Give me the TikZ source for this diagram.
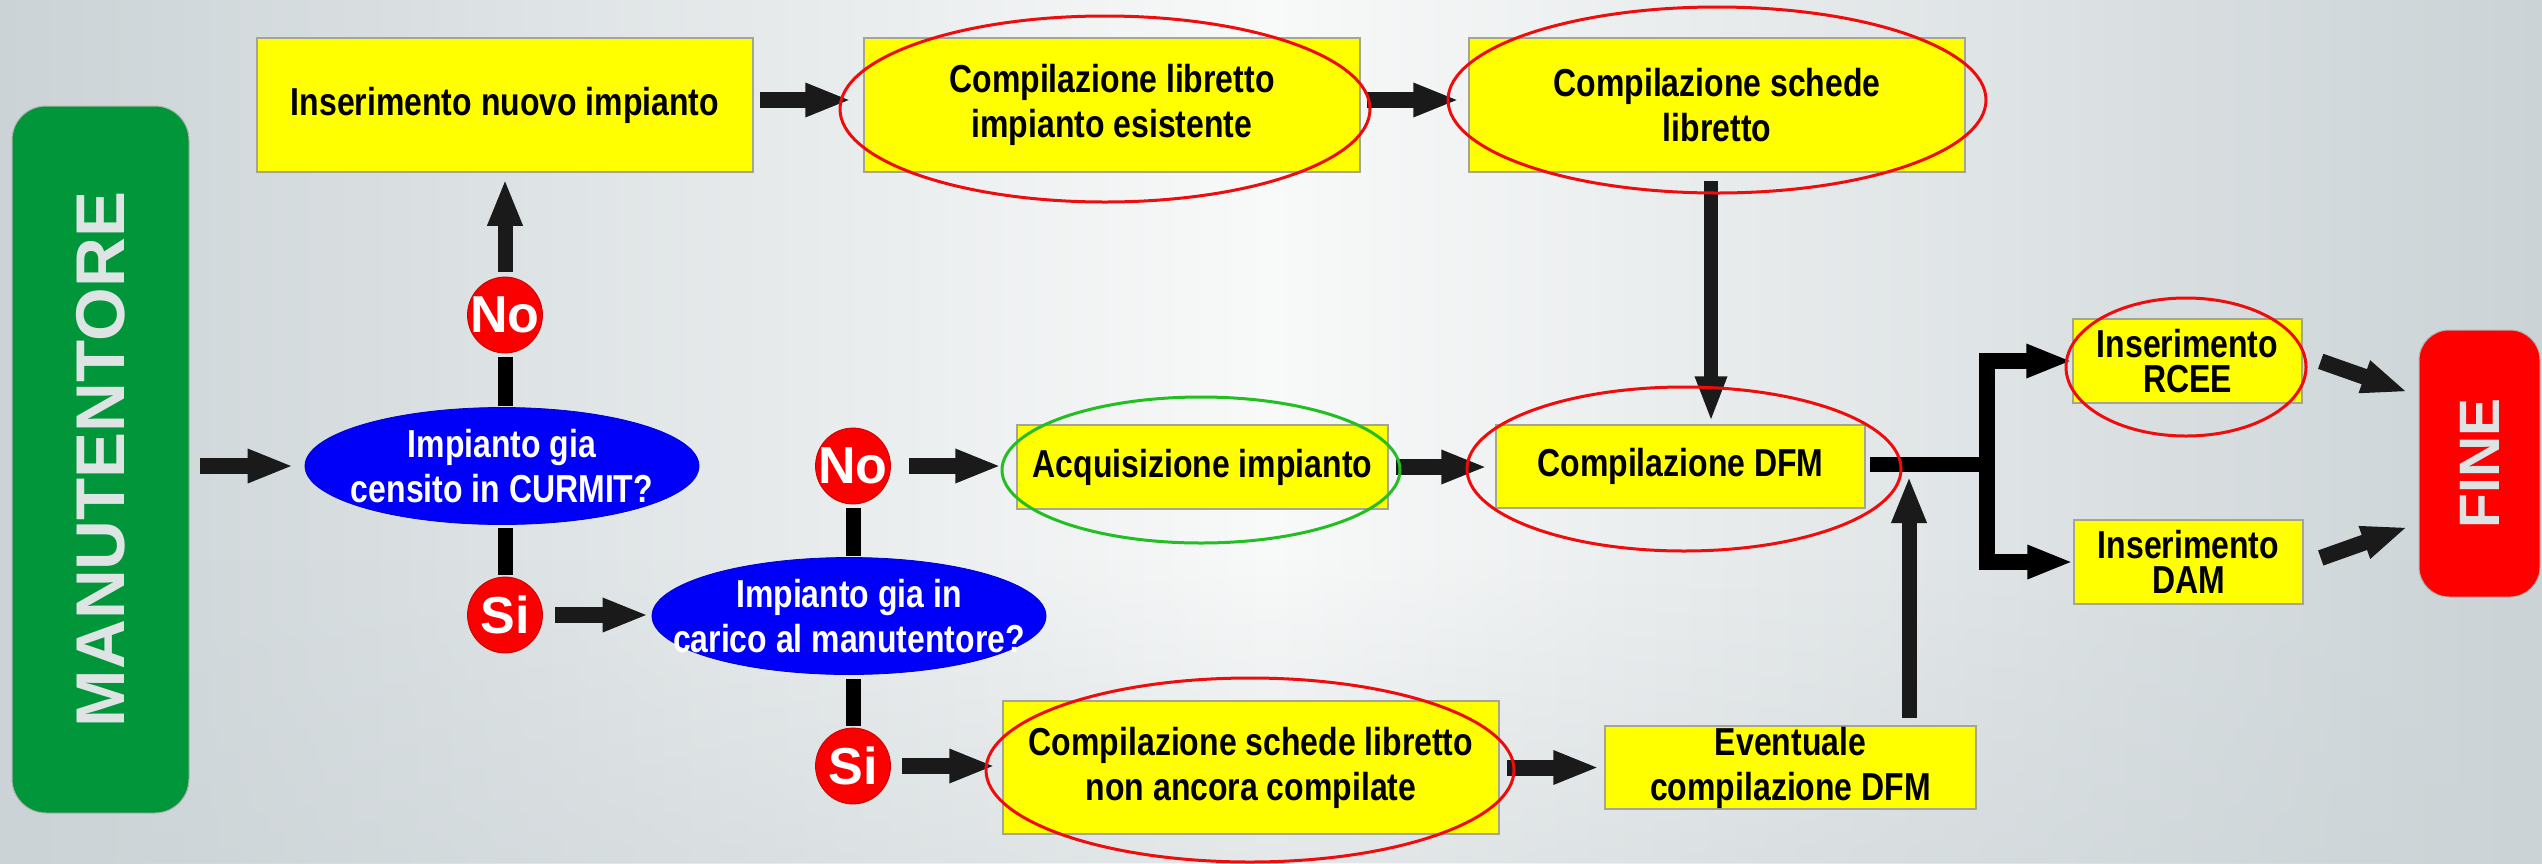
\documentclass[tikz,border=0pt]{standalone}
\usepackage{fontspec}
\setmainfont{Liberation Sans}
\newfontfamily\narrowfam{Liberation Sans}[FakeStretch=0.82]
\usetikzlibrary{shapes.geometric,arrows.meta,fadings}
\definecolor{bgedge}{RGB}{203,211,214}
\definecolor{bgmid}{RGB}{248,249,249}
\definecolor{boxedge}{RGB}{165,165,150}
\definecolor{ylw}{RGB}{255,255,0}
\definecolor{arr}{RGB}{26,26,26}
\definecolor{mangreen}{RGB}{0,150,57}
\definecolor{lighttext}{RGB}{222,228,228}
\definecolor{ringred}{RGB}{238,12,12}
\definecolor{ringgreen}{RGB}{34,190,34}
\definecolor{qblue}{RGB}{0,0,250}
\definecolor{ynred}{RGB}{250,0,0}
\begin{document}
\begin{tikzpicture}[x=1pt,y=-1pt,
  ybox/.style={draw=boxedge,line width=1.5pt,fill=ylw,align=center,inner sep=0pt,
     font=\narrowfam\bfseries\fontsize{39}{45}\selectfont},
  ybox2/.style={ybox,font=\narrowfam\bfseries\fontsize{39}{35}\selectfont,
     minimum width=229pt,minimum height=84pt},
  qell/.style={ellipse,fill=qblue,draw=qblue!80!black,line width=0.8pt,inner sep=0pt,
     minimum width=394pt,minimum height=117pt},
  qtext/.style={align=center,text=white,inner sep=0pt,
     font=\narrowfam\bfseries\fontsize{39}{45}\selectfont},
  yn/.style={ellipse,fill=ynred,draw=ynred!80!black,line width=0.8pt,inner sep=0pt,
     minimum width=75pt,minimum height=76pt,text=white,
     font=\bfseries\fontsize{52}{52}\selectfont},
  ring/.style={ellipse,draw=ringred,line width=3pt,inner sep=0pt},
  gring/.style={ellipse,draw=ringgreen,line width=3pt,inner sep=0pt},
  blk/.style={draw=arr,line width=16pt,-{Triangle[length=46pt,width=31pt]}},
  blkv/.style={draw=arr,line width=15pt,-{Triangle[length=47pt,width=32pt]}},
  vline/.style={draw=black,line width=15pt},
  endbox/.style={inner sep=0pt,draw=gray!60,line width=1pt}
]
\useasboundingbox (0,0) rectangle (2542,863);
\shade[left color=bgedge,right color=bgedge,middle color=bgmid] (0,0) rectangle (2542,863);
\fill[bgedge,path fading=north,fill opacity=0.45] (0,560) rectangle (2542,863);

% start / end
\node[endbox,fill=mangreen,rounded corners=34pt,minimum width=177pt,minimum height=707pt] (man) at (100.5,459.5) {};
\node[rotate=90,text=lighttext,inner sep=0pt,font=\bfseries\fontsize{69}{69}\selectfont] (mant) at (man.center) {MANUTENTORE};
\node[endbox,fill=red,rounded corners=30pt,minimum width=121pt,minimum height=267pt] (fine) at (2479.5,463.5) {};
\node[rotate=90,text=lighttext,inner sep=0pt,font=\bfseries\fontsize{57}{57}\selectfont] (finet) at (fine.center) {FINE};

% yellow boxes
\node[ybox,minimum width=496pt,minimum height=134pt] (nuovo) at (505,105) {Inserimento nuovo impianto};
\node[ybox,minimum width=496pt,minimum height=134pt] (lib) at (1112,105) {Compilazione libretto\\impianto esistente};
\node[ybox,minimum width=496pt,minimum height=134pt] (sch) at (1717,105) {Compilazione schede\\libretto};
\node[ybox,minimum width=371pt,minimum height=84pt] (acq) at (1202.5,467) {Acquisizione impianto};
\node[ybox,minimum width=369pt,minimum height=83pt] (dfm) at (1680.5,466.5) {Compilazione DFM};
\node[ybox,minimum width=496pt,minimum height=133pt] (schnc) at (1251,767.5) {Compilazione schede libretto\\non ancora compilate};
\node[ybox,minimum width=371pt,minimum height=83pt] (ev) at (1790.5,767.5) {Eventuale\\compilazione DFM};
\node[ybox2] (rcee) at (2187.5,361) {Inserimento\\RCEE};
\node[ybox2] (dam) at (2188.5,562) {Inserimento\\DAM};

% questions
\node[qell] (q1) at (502,466) {};
\node[qtext] (q1t) at (q1.center) {Impianto gia\\censito in CURMIT?};
\node[qell] (q2) at (849,616) {};
\node[qtext] (q2t) at (q2.center) {Impianto gia in\\carico al manutentore?};

% answers
\node[yn] (no1) at (505,315) {\makebox[0pt]{No}};
\node[yn] (si1) at (505,615) {\makebox[0pt]{Si}};
\node[yn] (no2) at (853,466) {\makebox[0pt]{No}};
\node[yn] (si2) at (853,766) {\makebox[0pt]{Si}};

% plain connector segments
\draw[vline,shorten <=4pt,shorten >=1pt] (no1.south) -- (q1.north -| no1.south);
\draw[vline,shorten <=3pt,shorten >=2pt] (q1.south -| si1.north) -- (si1.north);
\draw[vline,shorten <=4pt,shorten >=1pt] (no2.south) -- (q2.north -| no2.south);
\draw[vline,shorten <=4pt,shorten >=2pt] (q2.south -| si2.north) -- (si2.north);

% arrows
\draw[blk,shorten <=6pt,shorten >=12pt] ([yshift=5pt]nuovo.east) -- ([yshift=5pt]lib.west);
\draw[blk,shorten <=6pt,shorten >=9pt] ([yshift=5pt]lib.east) -- ([yshift=5pt]sch.west);
\draw[blk,shorten <=10pt,shorten >=11pt] (man.east |- q1.west) -- (q1.west);
\draw[blk,shorten <=12pt,shorten >=3pt] (si1.east) -- (q2.west |- si1.east);
\draw[blk,shorten <=18pt,shorten >=15pt] (no2.east) -- (acq.west |- no2.east);
\draw[blk,shorten <=11pt,shorten >=7pt] (si2.east) -- (schnc.west |- si2.east);
\draw[blk,shorten <=7pt,shorten >=8pt] (acq.east) -- (dfm.west |- acq.east);
\draw[blk,shorten <=7pt,shorten >=5pt] (schnc.east) -- (ev.west |- schnc.east);
\draw[blkv,shorten <=5pt,shorten >=6pt] (no1.north) -- (nuovo.south -| no1.north);

\coordinate (dx) at (1711,0);
\draw[blkv,line width=14pt,-{Triangle[length=46pt,width=29pt]},shorten <=8pt,shorten >=2pt] (sch.south -| dx) -- (dfm.north -| dx);
\coordinate (ux) at (1909,476);
\draw[blkv,shorten <=7pt] (ev.north -| ux) -- (ux);

\coordinate (j) at (1987,464.5);
\draw[vline,shorten <=4pt] (dfm.east |- j) -- (j);
\draw[blk,draw=black] (j) |- (rcee.west);
\draw[blk,draw=black] (j) |- (dam.west);

\coordinate (f1) at (2419,396);
\coordinate (f2) at (2419,523);
\draw[blk,shorten <=19pt,shorten >=12pt] ([yshift=6pt]rcee.east) -- (f1);
\draw[blk,shorten <=18pt,shorten >=12pt] ([yshift=-2pt]dam.east) -- (f2);

% highlight rings
\node[ring,minimum width=530pt,minimum height=186pt] (rlib) at (1105,109) {};
\node[ring,minimum width=538pt,minimum height=186pt] (rsch) at (1717,100) {};
\node[ring,minimum width=434pt,minimum height=164pt] (rdfm) at (1684,469) {};
\node[ring,minimum width=528pt,minimum height=184pt] (rschnc) at (1250,770) {};
\node[ring,minimum width=240pt,minimum height=138pt] (rrcee) at (2186,367) {};
\node[gring,minimum width=398pt,minimum height=146pt] (gacq) at (1201,470) {};
\end{tikzpicture}
\end{document}
